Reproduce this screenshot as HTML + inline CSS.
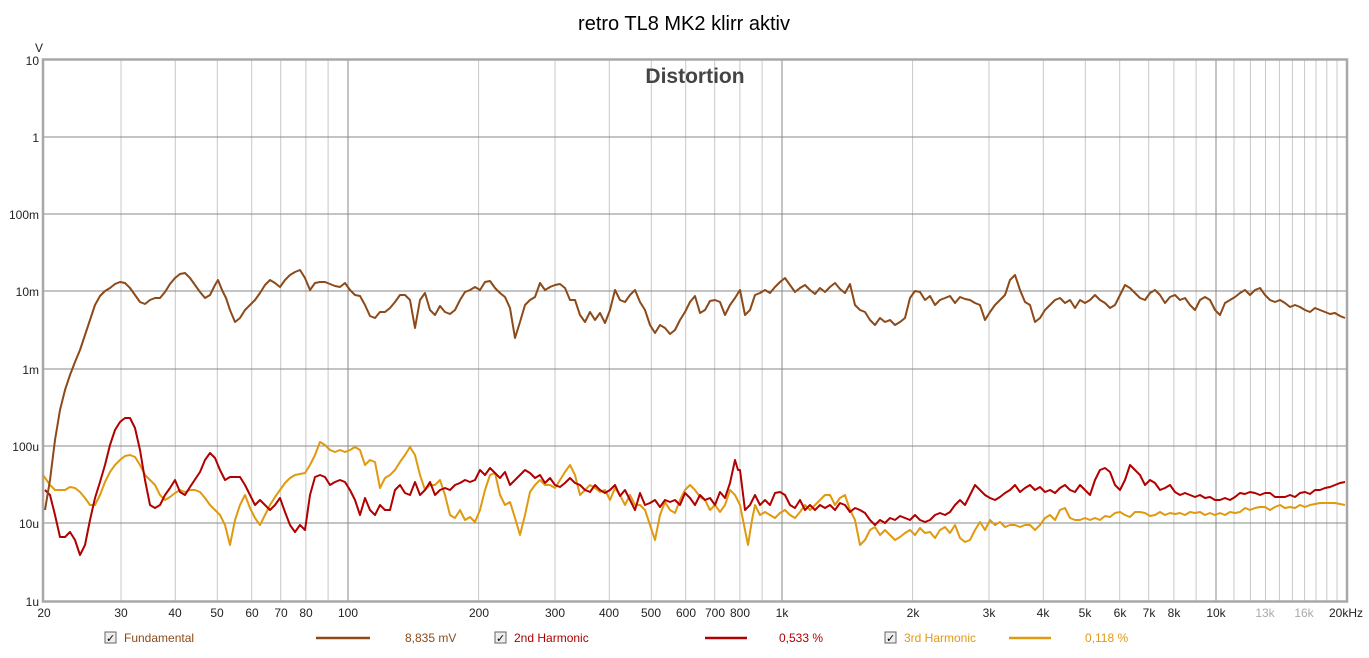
<!DOCTYPE html><html><head><meta charset="utf-8"><style>body{margin:0;background:#fff}svg{display:block;font-family:"Liberation Sans",sans-serif}</style></head><body>
<svg width="1369" height="658" viewBox="0 0 1369 658">
<rect width="1369" height="658" fill="#fff"/>
<text x="684" y="30" font-size="20" text-anchor="middle" fill="#000">retro TL8 MK2 klirr aktiv</text>
<g stroke="#c8c8c8" stroke-width="1">
<line x1="121" y1="60" x2="121" y2="601"/><line x1="175.3" y1="60" x2="175.3" y2="601"/><line x1="217.3" y1="60" x2="217.3" y2="601"/><line x1="251.7" y1="60" x2="251.7" y2="601"/><line x1="280.7" y1="60" x2="280.7" y2="601"/><line x1="305.9" y1="60" x2="305.9" y2="601"/><line x1="328.1" y1="60" x2="328.1" y2="601"/>
<line x1="478.6" y1="60" x2="478.6" y2="601"/><line x1="555" y1="60" x2="555" y2="601"/><line x1="609.3" y1="60" x2="609.3" y2="601"/><line x1="651.3" y1="60" x2="651.3" y2="601"/><line x1="685.7" y1="60" x2="685.7" y2="601"/><line x1="714.7" y1="60" x2="714.7" y2="601"/><line x1="739.9" y1="60" x2="739.9" y2="601"/><line x1="762.1" y1="60" x2="762.1" y2="601"/>
<line x1="912.6" y1="60" x2="912.6" y2="601"/><line x1="989" y1="60" x2="989" y2="601"/><line x1="1043.3" y1="60" x2="1043.3" y2="601"/><line x1="1085.3" y1="60" x2="1085.3" y2="601"/><line x1="1119.7" y1="60" x2="1119.7" y2="601"/><line x1="1148.7" y1="60" x2="1148.7" y2="601"/><line x1="1173.9" y1="60" x2="1173.9" y2="601"/><line x1="1196.1" y1="60" x2="1196.1" y2="601"/>
<line x1="1234" y1="60" x2="1234" y2="601"/><line x1="1250.4" y1="60" x2="1250.4" y2="601"/><line x1="1265.5" y1="60" x2="1265.5" y2="601"/><line x1="1279.4" y1="60" x2="1279.4" y2="601"/><line x1="1292.4" y1="60" x2="1292.4" y2="601"/><line x1="1304.6" y1="60" x2="1304.6" y2="601"/><line x1="1316" y1="60" x2="1316" y2="601"/><line x1="1326.8" y1="60" x2="1326.8" y2="601"/><line x1="1337" y1="60" x2="1337" y2="601"/>
</g>
<g stroke="#888" stroke-width="1">
<line x1="348" y1="60" x2="348" y2="601"/><line x1="782" y1="60" x2="782" y2="601"/><line x1="1216" y1="60" x2="1216" y2="601"/>
<line x1="44" y1="137" x2="1347" y2="137"/><line x1="44" y1="214" x2="1347" y2="214"/><line x1="44" y1="291" x2="1347" y2="291"/><line x1="44" y1="369" x2="1347" y2="369"/><line x1="44" y1="446" x2="1347" y2="446"/><line x1="44" y1="523" x2="1347" y2="523"/>
</g>
<rect x="43" y="59.5" width="1304" height="542" fill="none" stroke="#a8a8a8" stroke-width="2.5"/>
<text x="695" y="83" font-size="21" font-weight="bold" text-anchor="middle" fill="#444">Distortion</text>
<g font-size="12" fill="#222" text-anchor="end">
<text x="39" y="52" text-anchor="middle" x2="0">V</text>
<text x="39" y="65">10</text><text x="39" y="142">1</text><text x="39" y="219">100m</text><text x="39" y="296">10m</text><text x="39" y="374">1m</text><text x="39" y="451">100u</text><text x="39" y="528">10u</text><text x="39" y="606">1u</text>
</g>
<g font-size="12" fill="#222" text-anchor="middle">
<text x="44" y="617">20</text><text x="121" y="617">30</text><text x="175" y="617">40</text><text x="217" y="617">50</text><text x="252" y="617">60</text><text x="281" y="617">70</text><text x="306" y="617">80</text><text x="348" y="617">100</text>
<text x="479" y="617">200</text><text x="555" y="617">300</text><text x="609" y="617">400</text><text x="651" y="617">500</text><text x="686" y="617">600</text><text x="715" y="617">700</text><text x="740" y="617">800</text><text x="782" y="617">1k</text>
<text x="913" y="617">2k</text><text x="989" y="617">3k</text><text x="1043" y="617">4k</text><text x="1085" y="617">5k</text><text x="1120" y="617">6k</text><text x="1149" y="617">7k</text><text x="1174" y="617">8k</text><text x="1216" y="617">10k</text>
<text x="1265" y="617" fill="#aaa">13k</text><text x="1304" y="617" fill="#aaa">16k</text><text x="1346" y="617">20kHz</text>
</g>
<g fill="none" stroke-width="2" stroke-linejoin="round">
<polyline stroke="#e09a10" points="43,475 50,485 55,490 60,490 65,490 70,487 75,488 80,492 85,498 90,505 95,505 100,495 105,482 110,472 115,465 120,460 125,456 130,455 135,457 140,465 145,475 150,480 155,485 160,495 165,500 170,497 175,493 180,490 185,492 190,490 195,490 200,492 205,498 210,505 215,510 220,515 225,525 230,545 235,520 240,505 245,495 250,508 255,518 260,525 265,515 270,505 275,497 280,490 285,483 290,478 295,475 300,474 305,473 310,465 315,455 320,442 325,445 330,450 335,452 340,450 345,452 350,450 355,447 360,450 365,465 370,460 375,462 380,488 385,478 390,475 395,470 400,462 405,455 410,447 415,455 420,475 425,490 430,485 435,485 440,480 445,495 450,515 455,518 460,510 465,520 470,517 475,522 480,510 485,490 490,475 495,473 500,495 505,505 510,502 515,518 520,535 525,515 530,492 535,485 540,480 545,485 550,485 555,488 560,480 565,472 570,465 575,475 580,495 585,490 590,485 595,488 600,492 605,490 610,500 615,488 620,495 625,505 630,495 635,505 640,505 645,510 650,525 655,540 660,515 665,502 670,510 675,513 680,500 685,490 690,485 695,490 700,497 705,500 710,510 715,505 720,512 725,505 730,490 735,495 740,505 745,530 748,545 752,520 755,505 760,515 765,512 770,515 775,518 780,513 785,510 790,515 795,518 800,512 805,505 810,510 815,505 820,500 825,495 830,495 835,505 840,498 845,495 850,510 855,520 860,545 865,540 870,530 875,527 880,535 885,530 890,535 895,540 900,537 905,533 910,530 915,535 920,528 925,533 930,532 935,538 940,530 945,527 950,533 955,525 960,538 965,542 970,540 975,530 980,522 985,530 990,520 995,525 1000,522 1005,527 1010,525 1015,525 1020,527 1025,525 1030,525 1035,530 1040,525 1045,518 1050,515 1055,520 1060,510 1065,508 1070,518 1075,520 1080,520 1085,518 1090,520 1095,518 1100,520 1105,516 1110,517 1115,513 1120,512 1125,515 1130,517 1135,512 1140,512 1145,513 1150,516 1155,515 1160,512 1165,515 1170,513 1175,514 1180,513 1185,515 1190,512 1195,513 1200,512 1205,515 1210,513 1215,515 1220,513 1225,515 1230,512 1235,513 1240,512 1245,508 1250,510 1255,508 1260,507 1265,507 1270,510 1275,507 1280,505 1285,508 1290,507 1295,508 1300,505 1305,507 1310,505 1315,504 1320,503 1325,503 1330,503 1335,503 1340,504 1345,505"/>
<polyline stroke="#b00000" points="45,490 50,495 55,515 60,537 65,537 70,532 75,540 80,555 85,545 90,520 95,498 100,482 105,465 110,445 115,430 120,422 125,418 130,418 135,428 140,450 145,480 150,505 155,508 160,505 165,495 170,488 175,480 180,492 185,495 190,487 200,472 205,460 210,453 215,458 220,470 225,480 230,477 235,477 240,477 245,485 250,495 255,505 260,500 265,505 270,510 275,505 280,498 285,512 290,525 295,532 300,525 305,530 310,495 315,477 320,475 325,477 330,485 335,482 340,480 345,482 350,490 355,500 360,515 365,498 370,510 375,515 380,505 385,510 390,510 395,490 400,485 405,493 410,495 415,482 420,495 425,490 430,482 435,495 440,490 445,488 450,490 455,485 460,483 465,480 470,482 475,480 480,470 485,475 490,468 495,473 500,478 505,472 510,485 515,480 520,475 525,470 530,473 535,478 540,475 545,483 550,478 555,485 560,487 565,483 570,478 575,483 580,485 585,490 590,492 595,485 600,490 605,493 610,490 615,485 620,496 625,490 630,500 635,510 640,493 645,505 650,503 655,500 660,507 665,500 670,502 675,500 680,505 685,493 690,498 695,505 700,495 705,500 710,498 715,505 720,492 725,498 730,483 735,460 738,470 740,470 745,510 750,505 755,495 760,505 765,500 770,505 775,493 780,492 785,495 790,505 795,508 800,500 805,510 810,505 815,510 820,505 825,508 830,505 835,510 840,503 845,505 850,512 855,508 860,510 865,513 870,520 875,525 880,520 885,523 890,518 895,520 900,516 905,518 910,520 915,515 920,520 925,522 930,520 935,515 940,513 945,515 950,512 955,505 960,500 965,505 970,495 975,485 980,490 985,495 990,498 995,500 1000,497 1005,493 1010,490 1015,485 1020,492 1025,488 1030,485 1035,490 1040,487 1045,492 1050,490 1055,493 1060,488 1065,485 1070,490 1075,492 1080,485 1085,490 1090,495 1095,480 1100,470 1105,468 1110,472 1115,485 1120,490 1125,480 1130,465 1135,470 1140,475 1145,485 1150,480 1155,483 1160,490 1165,488 1170,485 1175,492 1180,495 1185,493 1190,495 1195,497 1200,495 1205,498 1210,497 1215,500 1220,500 1225,498 1230,500 1235,497 1240,493 1245,494 1250,492 1255,493 1260,495 1265,493 1270,493 1275,497 1280,497 1285,497 1290,495 1295,497 1300,493 1305,492 1310,494 1315,490 1320,490 1325,488 1330,487 1335,485 1340,483 1345,482"/>
<polyline stroke="#8c4a1a" points="45,510 50,480 55,440 60,410 65,390 70,375 75,362 80,350 85,335 90,320 95,305 100,296 105,291 110,288 115,284 120,282 125,283 130,288 135,295 140,302 145,304 150,300 155,298 160,298 165,292 170,284 175,278 180,274 185,273 190,278 195,285 200,292 205,298 210,295 215,285 218,280 222,290 226,298 230,310 235,322 240,318 245,310 250,305 255,300 260,293 265,285 270,280 275,283 280,287 285,280 290,275 295,272 300,270 305,278 310,290 315,283 320,282 325,282 330,284 335,286 340,287 345,283 350,290 355,295 360,296 365,305 370,316 375,318 380,312 385,312 390,308 395,302 400,295 405,295 410,300 415,328 420,300 425,293 430,310 435,315 440,306 445,312 450,314 455,310 460,300 465,292 470,290 475,287 480,290 485,282 490,281 495,288 500,293 505,297 510,308 515,338 520,322 525,305 530,300 535,297 540,283 545,290 550,287 555,285 560,284 565,288 570,300 575,300 580,315 585,322 590,312 595,320 600,313 605,323 610,310 615,290 620,300 625,302 630,295 635,290 640,302 645,310 650,325 655,333 660,325 665,328 670,334 675,330 680,320 685,312 690,302 695,296 700,313 705,310 710,301 715,300 720,302 725,315 730,305 735,298 740,290 745,315 750,310 755,295 760,293 765,290 770,293 775,287 780,282 785,278 790,285 795,292 800,288 805,285 810,290 815,294 820,288 825,292 830,287 835,283 840,289 845,293 850,284 855,305 860,310 865,312 870,320 875,325 880,318 885,322 890,320 895,325 900,322 905,318 910,298 915,291 920,292 925,300 930,296 935,305 940,300 945,298 950,296 955,303 960,297 965,299 970,300 975,303 980,305 985,320 990,312 995,305 1000,300 1005,295 1010,280 1015,275 1020,290 1025,302 1030,305 1035,322 1040,318 1045,310 1050,305 1055,300 1060,298 1065,303 1070,300 1075,308 1080,300 1085,303 1090,300 1095,295 1100,300 1105,303 1110,308 1115,305 1120,295 1125,285 1130,288 1135,293 1140,298 1145,300 1150,293 1155,290 1160,295 1165,303 1170,297 1175,295 1180,300 1185,298 1190,305 1195,310 1200,300 1205,297 1210,300 1215,310 1220,315 1225,303 1230,300 1235,297 1240,293 1245,290 1250,295 1255,290 1260,288 1265,295 1270,300 1275,302 1280,300 1285,303 1290,307 1295,305 1300,307 1305,310 1310,312 1315,308 1320,310 1325,312 1330,314 1335,313 1340,316 1345,318"/>
</g>
<g font-size="12">
<rect x="105" y="632" width="11" height="11" fill="#eee" stroke="#666"/><text x="106" y="642" font-size="11" fill="#000">✓</text>
<text x="124" y="642" fill="#8c4a1a">Fundamental</text>
<line x1="316" y1="638" x2="370" y2="638" stroke="#8c4a1a" stroke-width="2.5"/>
<text x="405" y="642" fill="#8c4a1a">8,835 mV</text>
<rect x="495" y="632" width="11" height="11" fill="#eee" stroke="#666"/><text x="496" y="642" font-size="11" fill="#000">✓</text>
<text x="514" y="642" fill="#b00000">2nd Harmonic</text>
<line x1="705" y1="638" x2="747" y2="638" stroke="#b00000" stroke-width="2.5"/>
<text x="779" y="642" fill="#b00000">0,533 %</text>
<rect x="885" y="632" width="11" height="11" fill="#eee" stroke="#666"/><text x="886" y="642" font-size="11" fill="#000">✓</text>
<text x="904" y="642" fill="#e09a10">3rd Harmonic</text>
<line x1="1009" y1="638" x2="1051" y2="638" stroke="#e09a10" stroke-width="2.5"/>
<text x="1085" y="642" fill="#e09a10">0,118 %</text>
</g>
</svg>
</body></html>
